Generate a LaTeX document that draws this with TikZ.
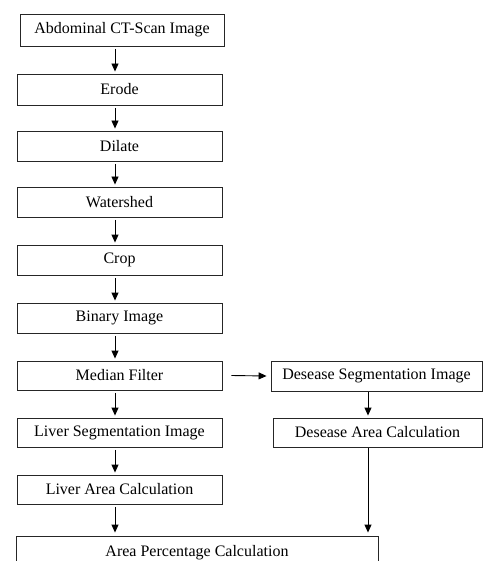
\documentclass[tikz,border=0pt]{standalone}
\usepackage{fontspec}
\setmainfont{Liberation Serif}
\usetikzlibrary{arrows.meta}
\begin{document}
\begin{tikzpicture}[x=1pt,y=-1pt,
  box/.style={draw=black!85,line width=0.9pt,inner sep=0pt,font=\rmfamily\fontsize{16}{19}\selectfont,anchor=center},
  arr/.style={draw=black,line width=0.9pt,-{Triangle[width=7pt,length=8pt]}}]
\useasboundingbox (0,0) rectangle (483,561);
\node[box,minimum width=204pt,minimum height=32pt] (a) at (122,30) {Abdominal CT-Scan Image};
\node[box,minimum width=205pt,minimum height=31pt] (b) at (119.5,89.5) {Erode};
\node[box,minimum width=205pt,minimum height=30pt] (c) at (119.5,146) {Dilate};
\node[box,minimum width=205pt,minimum height=30pt] (d) at (119.5,202) {Watershed};
\node[box,minimum width=205pt,minimum height=30pt] (e) at (119.5,260) {Crop};
\node[box,minimum width=205pt,minimum height=30pt] (f) at (119.5,318) {Binary Image};
\node[box,minimum width=205pt,minimum height=29pt] (g) at (119.5,375.5) {Median Filter};
\node[box,minimum width=205pt,minimum height=29pt] (h) at (119.5,432.5) {Liver Segmentation Image};
\node[box,minimum width=205pt,minimum height=29pt] (i) at (119.5,489.5) {Liver Area Calculation};
\node[box,minimum width=362pt,minimum height=34pt] (j) at (197,553) {Area Percentage Calculation};
\node[box,minimum width=211pt,minimum height=30pt] (k) at (376.5,376) {Desease Segmentation Image};
\node[box,minimum width=209pt,minimum height=29pt] (l) at (377.5,432.5) {Desease Area Calculation};
\draw[arr] ([xshift=-7pt,yshift=-2.5pt]a.south) -- ([xshift=-4.5pt,yshift=2pt]b.north);
\foreach \s/\t in {b/c,c/d,d/e,e/f,f/g,g/h,h/i}
  \draw[arr] ([xshift=-4.5pt,yshift=-2.5pt]\s.south) -- ([xshift=-4.5pt,yshift=2pt]\t.north);
\draw[arr] ([xshift=-4.5pt,yshift=-2.5pt]i.south) -- ([xshift=-82pt,yshift=3pt]j.north);
\draw[arr] ([xshift=9pt]g.east) -- ([xshift=-4pt]k.west);
\draw[arr] ([xshift=-8.5pt,yshift=-1pt]k.south) -- ([xshift=-9.5pt,yshift=2pt]l.north);
\draw[arr] ([xshift=-9.5pt,yshift=-1pt]l.south) -- ([xshift=171pt,yshift=3pt]j.north);
\end{tikzpicture}
\end{document}
